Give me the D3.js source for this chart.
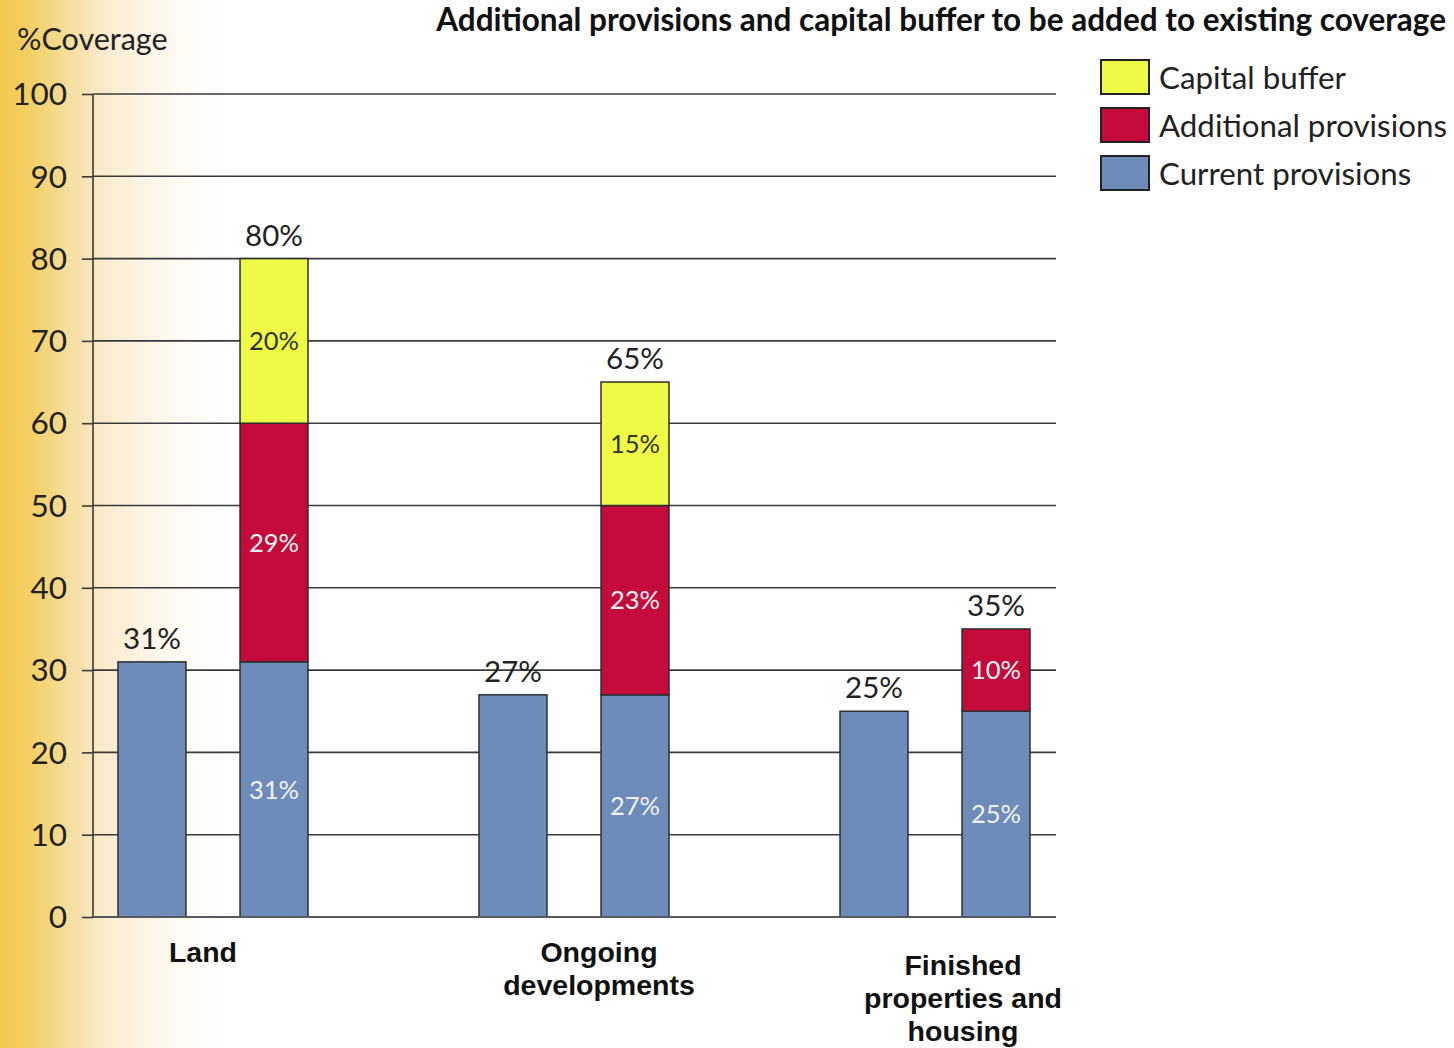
<!DOCTYPE html>
<html>
<head>
<meta charset="utf-8">
<script src="https://cdn.jsdelivr.net/npm/d3@7"></script>
<style>
  html, body { margin: 0; padding: 0; background: #fff; }
  svg { display: block; }
</style>
</head>
<body>
<svg id="chart" width="1454" height="1048"></svg>
<script>
// Coverage by loan category (percent)
const categories = ["Land", "Ongoing developments", "Finished properties and housing"];
const categoryLines = [["Land"], ["Ongoing", "developments"], ["Finished", "properties and", "housing"]];
const currentProvisions = [31, 27, 25];
const additionalProvisions = [29, 23, 10];
const capitalBuffer = [20, 15, 0];
const totalCoverage = [80, 65, 35];
const yTicks = [0, 10, 20, 30, 40, 50, 60, 70, 80, 90, 100];
const seriesNames = ["Capital buffer", "Additional provisions", "Current provisions"];

const colors = {
  "Current provisions": "#6d8cba",
  "Additional provisions": "#c40b3b",
  "Capital buffer": "#eefa45"
};

const svg = d3.select("#chart");
const W = 1454, H = 1048;
const plot = { left: 93, right: 1056, top: 94, bottom: 917 };

// background: warm gradient fading in from the left edge
const defs = svg.append("defs");
const grad = defs.append("linearGradient").attr("id", "bg").attr("x1", 0).attr("x2", 1).attr("y1", 0).attr("y2", 0);
[[0, "#f2c94f"], [0.02, "#f3cf63"], [0.05, "#f6dfa2"], [0.07, "#f9eacb"], [0.1, "#fcf5e6"], [0.13, "#fffcf6"], [0.16, "#ffffff"], [1, "#ffffff"]]
  .forEach(([o, c]) => grad.append("stop").attr("offset", o).attr("stop-color", c));
svg.append("rect").attr("width", W).attr("height", H).attr("fill", "url(#bg)");

const y = d3.scaleLinear().domain([0, 100]).range([plot.bottom, plot.top]);
const x0 = d3.scaleBand().domain(categories).range([plot.left, plot.left + 3 * 361]).paddingInner(0).paddingOuter(0);
const x1 = d3.scaleBand().domain(["current", "stacked"]).range([25, 25 + 190]).paddingInner(0.443).paddingOuter(0);

const calibri = "Lato, 'Open Sans', sans-serif";
const arial = "'Liberation Sans', Arial, sans-serif";

// gridlines
svg.append("g").selectAll("line").data(yTicks.filter(d => d > 0)).join("line")
  .attr("x1", plot.left).attr("x2", plot.right)
  .attr("y1", d => y(d)).attr("y2", d => y(d))
  .attr("stroke", "#3a3a3a").attr("stroke-width", 1.6);

// y axis
const yAxis = d3.axisLeft(y).tickValues(yTicks).tickSize(11).tickPadding(15);
const gy = svg.append("g").attr("transform", `translate(${plot.left},0)`).call(yAxis);
gy.select(".domain").attr("stroke", "#3a3a3a").attr("stroke-width", 1.6).attr("d", `M0,${plot.top}V${plot.bottom}`);
gy.selectAll(".tick line").attr("stroke", "#3a3a3a").attr("stroke-width", 1.6);
gy.selectAll(".tick text").attr("font-family", calibri).attr("font-size", 31.5).attr("fill", "#222").attr("dy", "0.34em");

svg.append("text").attr("x", 17).attr("y", 50).attr("font-family", calibri).attr("font-size", 30.5)
  .attr("fill", "#222").text("%Coverage");

// bars
const bars = svg.append("g");
const barStroke = "#2e2e2e";
categories.forEach((cat, i) => {
  const gx = x0(cat);
  const bw = x1.bandwidth();
  // current provisions alone
  const xa = gx + x1("current");
  bars.append("rect").attr("x", xa).attr("y", y(currentProvisions[i]))
    .attr("width", bw).attr("height", y(0) - y(currentProvisions[i]))
    .attr("fill", colors["Current provisions"]).attr("stroke", barStroke).attr("stroke-width", 1.5);
  bars.append("text").attr("x", xa + bw / 2).attr("y", y(currentProvisions[i]) - 13)
    .attr("text-anchor", "middle").attr("font-family", calibri).attr("font-size", 29.5).attr("fill", "#222")
    .text(currentProvisions[i] + "%");

  // stacked total
  const xb = gx + x1("stacked");
  const segs = [
    { name: "Current provisions", v: currentProvisions[i] },
    { name: "Additional provisions", v: additionalProvisions[i] },
    { name: "Capital buffer", v: capitalBuffer[i] }
  ];
  let base = 0;
  segs.forEach(s => {
    if (s.v <= 0) return;
    const y0 = y(base), y1 = y(base + s.v);
    bars.append("rect").attr("x", xb).attr("y", y1).attr("width", bw).attr("height", y0 - y1)
      .attr("fill", colors[s.name]).attr("stroke", barStroke).attr("stroke-width", 1.5);
    bars.append("text").attr("x", xb + bw / 2).attr("y", (y0 + y1) / 2)
      .attr("dy", "0.36em").attr("text-anchor", "middle").attr("font-family", calibri).attr("font-size", 25.5)
      .attr("fill", s.name === "Capital buffer" ? "#333" : "#f2f2f2")
      .text(s.v + "%");
    base += s.v;
  });
  bars.append("text").attr("x", xb + bw / 2).attr("y", y(totalCoverage[i]) - 13)
    .attr("text-anchor", "middle").attr("font-family", calibri).attr("font-size", 29.5).attr("fill", "#222")
    .text(totalCoverage[i] + "%");
});

// baseline over bars
svg.append("line").attr("x1", plot.left).attr("x2", plot.right).attr("y1", y(0)).attr("y2", y(0))
  .attr("stroke", "#555a60").attr("stroke-width", 2);

// category labels
const labelShift = [-10, 25, 28];
const labelTop = [952, 952, 965];
categories.forEach((cat, i) => {
  const cx = x0(cat) + x1("current") + (x1("stacked") + x1.bandwidth() - x1("current")) / 2 + labelShift[i];
  const t = svg.append("text").attr("text-anchor", "middle").attr("font-family", arial)
    .attr("font-weight", "bold").attr("font-size", 28.5).attr("fill", "#111");
  categoryLines[i].forEach((line, k) => {
    t.append("tspan").attr("x", cx).attr("y", labelTop[i] + k * 33).attr("dy", "0.35em").text(line);
  });
});

// title
svg.append("text").attr("x", 1446).attr("y", 31).attr("text-anchor", "end")
  .attr("font-family", calibri).attr("font-weight", "bold").attr("font-size", 31.5).attr("fill", "#111")
  .text("Additional provisions and capital buffer to be added to existing coverage");

// legend
const legend = svg.append("g").attr("transform", "translate(1101,60)");
seriesNames.forEach((name, i) => {
  const g = legend.append("g").attr("transform", `translate(0,${i * 48})`);
  g.append("rect").attr("width", 48).attr("height", 34).attr("fill", colors[name])
    .attr("stroke", "#222").attr("stroke-width", 2);
  g.append("text").attr("x", 58).attr("y", 18).attr("dy", "0.36em")
    .attr("font-family", calibri).attr("font-size", 31.3).attr("fill", "#222").text(name);
});
</script>
</body>
</html>
